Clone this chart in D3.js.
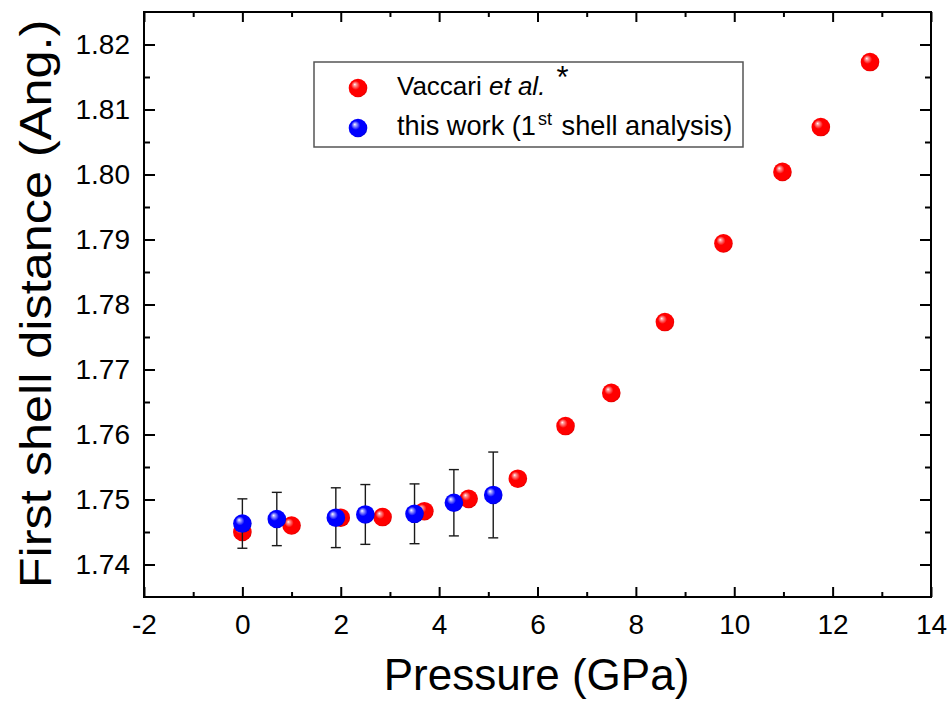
<!DOCTYPE html>
<html><head><meta charset="utf-8">
<script src="https://cdn.jsdelivr.net/npm/d3@7"></script>
<style>body{margin:0;background:#fff} text{font-family:"Liberation Sans",Arial,Helvetica,sans-serif;fill:#000}</style>
</head><body><svg id="c" width="952" height="706"></svg>
<script>
// ---- data ----
const vaccariP = [0.0, 1.0, 2.0, 2.85, 3.7, 4.6, 5.6, 6.57, 7.5, 8.59, 9.78, 10.98, 11.76, 12.76];
const vaccariD = [1.7450, 1.7460, 1.7472, 1.7473, 1.7482, 1.7501, 1.7532, 1.7613, 1.7664, 1.7773, 1.7894, 1.8004, 1.8073, 1.8173];
const workP = [0.0, 0.7, 1.9, 2.5, 3.5, 4.3, 5.1];
const workD = [1.7463, 1.7470, 1.7472, 1.7477, 1.7478, 1.7495, 1.7507];
const workErr = [0.0038, 0.0041, 0.0046, 0.0046, 0.0046, 0.0051, 0.0066];
const xTicks = [-2, 0, 2, 4, 6, 8, 10, 12, 14];
const xMinor = [-1, 1, 3, 5, 7, 9, 11, 13];
const yTicks = [1.74, 1.75, 1.76, 1.77, 1.78, 1.79, 1.80, 1.81, 1.82];
const yMinor = [1.745, 1.755, 1.765, 1.775, 1.785, 1.795, 1.805, 1.815];
const xTitle = "Pressure (GPa)";
const yTitle = "First shell distance (Ang.)";

const svg = d3.select("#c");
const L = 144, R = 931, T = 12, B = 597;
const x = d3.scaleLinear().domain([-2, 14]).range([L, R]);
const y = d3.scaleLinear().domain([1.735, 1.825]).range([B, T]);

// gradients
const defs = svg.append("defs");
function sphere(id, light, mid, dark) {
  const g = defs.append("radialGradient").attr("id", id)
    .attr("cx", "0.45").attr("cy", "0.45").attr("r", "0.6")
    .attr("fx", "0.32").attr("fy", "0.3");
  g.append("stop").attr("offset", "0").attr("stop-color", "#ffffff");
  g.append("stop").attr("offset", "0.12").attr("stop-color", light);
  g.append("stop").attr("offset", "0.4").attr("stop-color", mid);
  g.append("stop").attr("offset", "0.85").attr("stop-color", mid);
  g.append("stop").attr("offset", "1").attr("stop-color", dark);
}
sphere("gr", "#ff9a9a", "#ff0000", "#c80000");
sphere("gb", "#a8a8ff", "#0000ff", "#0000b8");

const fmtY = d3.format(".2f");
const fmtX = d => String(d);
function styleAxis(g) {
  g.select(".domain").remove();
  g.selectAll(".tick line").attr("stroke", "#000").attr("stroke-width", 2);
  g.selectAll("text").style("font-size", "28px").attr("fill", "#000");
}
// major axes
svg.append("g").attr("transform", `translate(0,${B})`)
  .call(d3.axisBottom(x).tickValues(xTicks).tickSize(-10).tickPadding(17).tickFormat(fmtX))
  .call(styleAxis);
svg.append("g").attr("transform", `translate(${L},0)`)
  .call(d3.axisLeft(y).tickValues(yTicks).tickSize(-11).tickPadding(14).tickFormat(fmtY))
  .call(styleAxis);
svg.append("g").attr("transform", `translate(0,${T})`)
  .call(d3.axisTop(x).tickValues(xTicks).tickSize(-10).tickFormat(""))
  .call(styleAxis);
svg.append("g").attr("transform", `translate(${R},0)`)
  .call(d3.axisRight(y).tickValues(yTicks).tickSize(-11).tickFormat(""))
  .call(styleAxis);
// minor
svg.append("g").attr("transform", `translate(0,${B})`)
  .call(d3.axisBottom(x).tickValues(xMinor).tickSize(-5).tickFormat("")).call(styleAxis);
svg.append("g").attr("transform", `translate(0,${T})`)
  .call(d3.axisTop(x).tickValues(xMinor).tickSize(-5).tickFormat("")).call(styleAxis);
svg.append("g").attr("transform", `translate(${L},0)`)
  .call(d3.axisLeft(y).tickValues(yMinor).tickSize(-6).tickFormat("")).call(styleAxis);
svg.append("g").attr("transform", `translate(${R},0)`)
  .call(d3.axisRight(y).tickValues(yMinor).tickSize(-6).tickFormat("")).call(styleAxis);

// frame
svg.append("rect").attr("x", L).attr("y", T).attr("width", R - L).attr("height", B - T)
  .attr("fill", "none").attr("stroke", "#000").attr("stroke-width", 2);

// titles
svg.append("text").attr("x", (L + R) / 2 - 1).attr("y", 690).attr("text-anchor", "middle")
  .style("font-size", "44px").text(xTitle);
svg.append("text").attr("transform", `translate(51,304) rotate(-90) scale(1.12,1)`)
  .attr("text-anchor", "middle").style("font-size", "45px").text(yTitle);

const R_MARK = 9.3;
// Vaccari (red)
svg.append("g").selectAll("circle").data(vaccariP.map((p, i) => [p, vaccariD[i]])).join("circle")
  .attr("cx", d => x(d[0])).attr("cy", d => y(d[1])).attr("r", R_MARK).attr("fill", "url(#gr)");
// error bars
const eb = svg.append("g").attr("stroke", "#1a1a1a").attr("stroke-width", 1.4);
workP.forEach((p, i) => {
  const cx = x(p), y1 = y(workD[i] + workErr[i]), y2 = y(workD[i] - workErr[i]);
  eb.append("line").attr("x1", cx).attr("x2", cx).attr("y1", y1).attr("y2", y2);
  eb.append("line").attr("x1", cx - 5).attr("x2", cx + 5).attr("y1", y1).attr("y2", y1);
  eb.append("line").attr("x1", cx - 5).attr("x2", cx + 5).attr("y1", y2).attr("y2", y2);
});
// this work (blue)
svg.append("g").selectAll("circle").data(workP.map((p, i) => [p, workD[i]])).join("circle")
  .attr("cx", d => x(d[0])).attr("cy", d => y(d[1])).attr("r", R_MARK).attr("fill", "url(#gb)");

// legend
const lg = svg.append("g");
lg.append("rect").attr("x", 314).attr("y", 62).attr("width", 429).attr("height", 85)
  .attr("fill", "#fff").attr("stroke", "#555").attr("stroke-width", 1.5);
lg.append("circle").attr("cx", 358).attr("cy", 88).attr("r", R_MARK).attr("fill", "url(#gr)");
lg.append("circle").attr("cx", 358).attr("cy", 128).attr("r", R_MARK).attr("fill", "url(#gb)");
const t1 = lg.append("text").attr("x", 397).attr("y", 95).style("font-size", "26px");
t1.append("tspan").text("Vaccari ");
t1.append("tspan").style("font-style", "italic").text("et al.");
t1.append("tspan").attr("dx", 11).attr("dy", -7).style("font-size", "31px").text("*");
const t2 = lg.append("text").attr("x", 397).attr("y", 135).style("font-size", "27.2px");
t2.append("tspan").text("this work (1");
t2.append("tspan").attr("dx", 2).attr("dy", -10).style("font-size", "18px").text("st");
t2.append("tspan").attr("dx", 2).attr("dy", 10).text(" shell analysis)");
</script>
</body></html>
